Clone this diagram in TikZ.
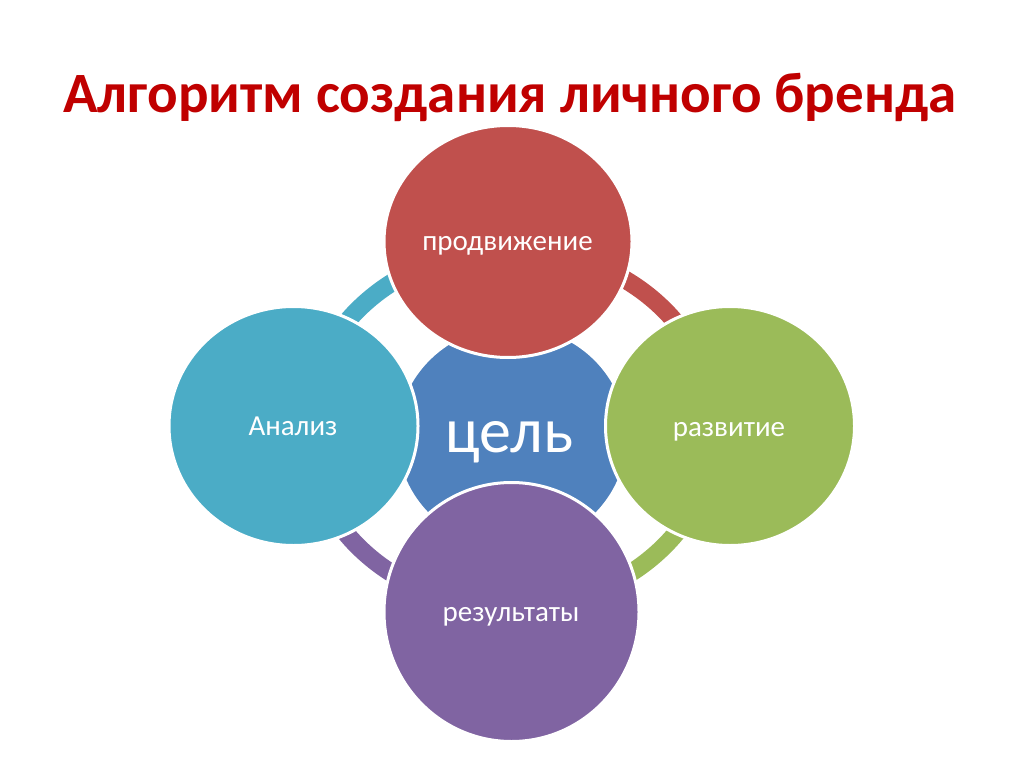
\documentclass[tikz,border=0pt]{standalone}
\usepackage{fontspec}
\setmainfont{Carlito}
\usetikzlibrary{shapes.geometric,calc}
\definecolor{cred}{HTML}{C0504D}
\definecolor{cgreen}{HTML}{9BBB59}
\definecolor{cpurple}{HTML}{8064A2}
\definecolor{cteal}{HTML}{4BACC6}
\definecolor{cblue}{HTML}{4F81BD}
\definecolor{ctitle}{HTML}{C00000}
\tikzset{
  bubble/.style={ellipse, draw=white, line width=3pt, inner sep=0pt},
  ringarc/.style={line width=18pt},
  lab/.style={anchor=base, text=white, inner sep=0pt, font=\fontsize{29}{34}\selectfont},
}
\begin{document}
\begin{tikzpicture}[x=1pt,y=-1pt]
\fill[white] (0,0) rectangle (1024,767);
\useasboundingbox (0,0) rectangle (1024,767);
\node[anchor=base, text=ctitle, inner sep=0pt, font=\fontsize{57}{68}\selectfont\bfseries] (title) at (510,113) {Алгоритм создания личного бренда};
\coordinate (ring) at (511,428);
\draw[ringarc, cteal] ($(ring)+(180:204pt and 179pt)$) arc[start angle=180, end angle=90, x radius=204pt, y radius=179pt];
\draw[ringarc, cred] ($(ring)+(90:204pt and 179pt)$) arc[start angle=90, end angle=0, x radius=204pt, y radius=179pt];
\draw[ringarc, cgreen] ($(ring)+(0:204pt and 179pt)$) arc[start angle=0, end angle=-90, x radius=204pt, y radius=179pt];
\draw[ringarc, cpurple] ($(ring)+(-90:204pt and 179pt)$) arc[start angle=-90, end angle=-180, x radius=204pt, y radius=179pt];
\node[bubble, fill=cblue, minimum width=232pt, minimum height=224pt] (goal) at (512,437) {};
\node[bubble, fill=cred, minimum width=248pt, minimum height=232pt] (promo) at (508,241.5) {};
\node[bubble, fill=cteal, minimum width=249pt, minimum height=239pt] (anal) at (293.5,426) {};
\node[bubble, fill=cgreen, minimum width=249pt, minimum height=239pt] (dev) at (730,426) {};
\node[bubble, fill=cpurple, minimum width=255pt, minimum height=259pt] (res) at (511.5,612) {};
\node[lab, font=\fontsize{64}{76}\selectfont] (goalt) at (509.5,452) {цель};
\node[lab] (promot) at (507.5,250) {продвижение};
\node[lab] (analt) at (293,435) {Анализ};
\node[lab] (devt) at (729,436.7) {развитие};
\node[lab] (rest) at (511,621.7) {результаты};
\end{tikzpicture}
\end{document}
